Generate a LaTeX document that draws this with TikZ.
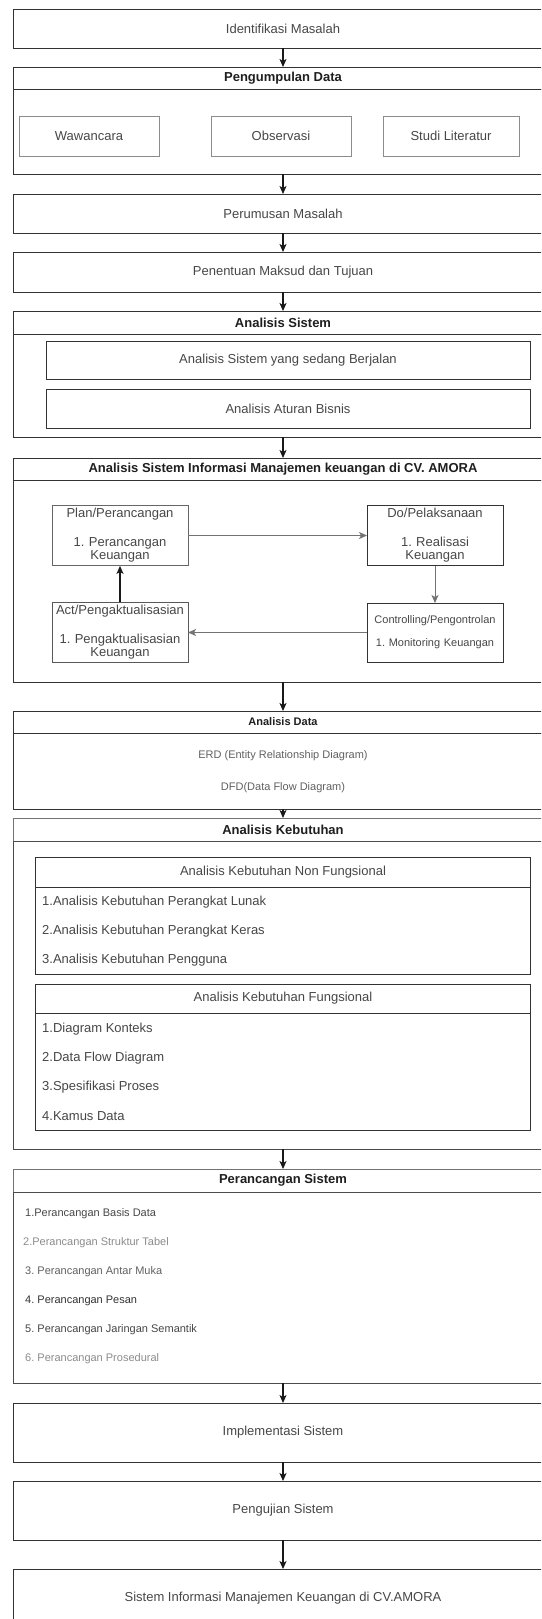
\documentclass[tikz,border=0pt]{standalone}
\usepackage{fontspec}
\setmainfont{Liberation Sans}
\usepackage{tikz}
\usetikzlibrary{positioning, arrows.meta}
\frenchspacing

\begin{document}
\begin{tikzpicture}[
    x=1pt, y=-1pt,
    node distance=19pt,
    box/.style={rectangle, draw=black!80, line width=0.9pt, outer sep=0pt, minimum width=540pt, text=black!72, font=\fontsize{13}{15}\selectfont},
    head/.style={box, minimum height=22pt, text=black!88, font=\bfseries\fontsize{13}{15}\selectfont},
    sub/.style={rectangle, draw=black!80, line width=0.9pt, outer sep=0pt, text=black!72, font=\fontsize{13}{15}\selectfont},
    pdca/.style={sub, minimum width=136pt, minimum height=59pt, text width=132pt, inner xsep=2pt, align=center, font=\fontsize{13}{13.5}\selectfont},
    item/.style={anchor=west, inner sep=0pt, text=black!72, font=\fontsize{13}{15}\selectfont},
    small/.style={item, font=\fontsize{11}{13}\selectfont},
    arrow/.style={-{Stealth[length=8pt, width=7pt, inset=2pt]}, line width=1.2pt, draw=black!90}
    ]
\useasboundingbox (0,0) rectangle (541,1619);
\fill[white] (0,0) rectangle (541,1619);
\clip (0,0) rectangle (541,1619);

\node[box, minimum height=39pt] (idm) at (283,28.5) {Identifikasi Masalah};

\node[head, below=of idm] (pgd) {Pengumpulan Data};
\node[box, minimum height=85pt, below=0pt of pgd] (pgdb) {};
\node[sub, draw=black!45, minimum width=140pt, minimum height=40pt] (wwc) at (89,136) {Wawancara};
\node[sub, draw=black!45, minimum width=140pt, minimum height=40pt] (obs) at (281,136) {Observasi};
\node[sub, draw=black!45, minimum width=136pt, minimum height=40pt] (stl) at (451,136) {Studi Literatur};

\node[box, minimum height=39pt, below=20pt of pgdb] (prm) {Perumusan Masalah};
\node[box, minimum height=40pt, below=of prm] (pmt) {Penentuan Maksud dan Tujuan};

\node[head, minimum height=23pt, below=of pmt] (ans) {Analisis Sistem};
\node[box, minimum height=103pt, below=0pt of ans] (ansb) {};
\node[sub, minimum width=484pt, minimum height=38pt] (asb) at (288,360) {Analisis Sistem yang sedang Berjalan};
\node[sub, minimum width=484pt, minimum height=39pt] (aab) at (288,408.5) {Analisis Aturan Bisnis};

\node[head, below=21pt of ansb] (asi) {Analisis Sistem Informasi Manajemen keuangan di CV. AMORA};
\node[box, minimum height=202pt, below=0pt of asi] (asib) {};
\node[pdca, draw=black!60] (pln) at (120,535.5) {Plan/Perancangan\\[15pt]1. Perancangan\\Keuangan};
\node[pdca] (pls) at (435,535.5) {Do/Pelaksanaan\\[15pt]1. Realisasi\\Keuangan};
\node[pdca, font=\fontsize{11}{12}\selectfont] (ctr) at (435,632.5) {Controlling/Pengontrolan\\[11pt]1. Monitoring Keuangan};
\node[pdca, draw=black!65] (act) at (120,632.5) {Act/Pengaktualisasian\\[15pt]1. Pengaktualisasian\\Keuangan};

\node[head, font=\bfseries\fontsize{11}{13}\selectfont, below=29pt of asib] (adt) {Analisis Data};
\node[box, minimum height=76pt, below=0pt of adt] (adtb) {};
\node[text=black!62, font=\fontsize{11}{13}\selectfont] (erd) at (283,756) {ERD (Entity Relationship Diagram)};
\node[text=black!62, font=\fontsize{11}{13}\selectfont] (dfd) at (283,788) {DFD(Data Flow Diagram)};

\node[head, minimum height=23pt, draw=black!55, below=9pt of adtb] (akb) {Analisis Kebutuhan};
\node[box, minimum height=308pt, draw=black!70, below=0pt of akb] (akbb) {};
\node[sub, minimum width=495pt, minimum height=30pt] (nfh) at (283,872) {Analisis Kebutuhan Non Fungsional};
\node[sub, minimum width=495pt, minimum height=87pt, below=0pt of nfh] (nfb) {};
\node[item] (nf1) at (42,902) {1.Analisis Kebutuhan Perangkat Lunak};
\node[item] (nf2) at (42,931) {2.Analisis Kebutuhan Perangkat Keras};
\node[item] (nf3) at (42,960) {3.Analisis Kebutuhan Pengguna};
\node[sub, minimum width=495pt, minimum height=29pt] (fsh) at (283,998.5) {Analisis Kebutuhan Fungsional};
\node[sub, minimum width=495pt, minimum height=117pt, below=0pt of fsh] (fsb) {};
\node[item] (fs1) at (42,1029) {1.Diagram Konteks};
\node[item] (fs2) at (42,1058) {2.Data Flow Diagram};
\node[item] (fs3) at (42,1087) {3.Spesifikasi Proses};
\node[item] (fs4) at (42,1116) {4.Kamus Data};

\node[head, minimum height=23pt, draw=black!55, below=20pt of akbb] (prs) {Perancangan Sistem};
\node[box, minimum height=191pt, draw=black!70, below=0pt of prs] (prsb) {};
\node[small] (pr1) at (25,1214) {1.Perancangan Basis Data};
\node[small, text=black!45] (pr2) at (23,1243) {2.Perancangan Struktur Tabel};
\node[small, text=black!62] (pr3) at (25,1272) {3. Perancangan Antar Muka};
\node[small, text=black!80] (pr4) at (25,1301) {4. Perancangan Pesan};
\node[small] (pr5) at (25,1330) {5. Perancangan Jaringan Semantik};
\node[small, text=black!45] (pr6) at (25,1359) {6. Perancangan Prosedural};

\node[box, minimum height=59pt, below=20pt of prsb] (ims) {Implementasi Sistem};
\node[box, minimum height=59pt, below=of ims] (pgj) {Pengujian Sistem};
\node[box, minimum height=59pt, below=29pt of pgj] (sim) {Sistem Informasi Manajemen Keuangan di CV.AMORA};

\draw[arrow] (idm) -- (pgd);
\draw[arrow] (pgdb) -- (prm);
\draw[arrow] (prm) -- (pmt);
\draw[arrow] (pmt) -- (ans);
\draw[arrow] (ansb) -- (asi);
\draw[arrow, draw=black!55, line width=0.9pt] (pln) -- (pls);
\draw[arrow, draw=black!55, line width=0.9pt] (pls) -- (ctr);
\draw[arrow, draw=black!55, line width=0.9pt] (ctr) -- (act);
\draw[arrow] (act) -- (pln);
\draw[arrow] (asib) -- (adt);
\draw[arrow] (adtb) -- (akb);
\draw[arrow] (akbb) -- (prs);
\draw[arrow] (prsb) -- (ims);
\draw[arrow] (ims) -- (pgj);
\draw[arrow] (pgj) -- (sim);
\end{tikzpicture}
\end{document}
